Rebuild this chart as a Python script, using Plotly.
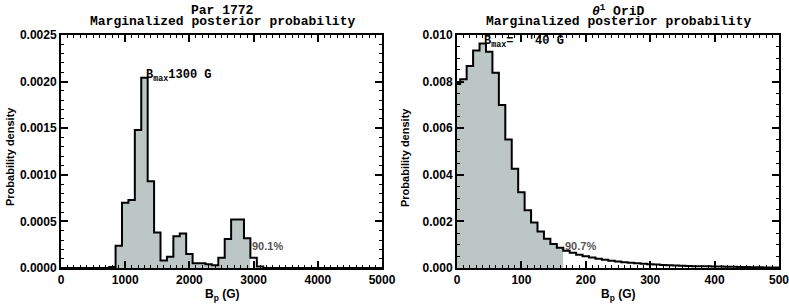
import plotly.graph_objects as go

# ---- data ----
left_centers = list(range(0, 5001, 100))
left_vals_e3 = [0]*8 + [0.01, 0.24, 0.70, 0.73, 1.48, 2.04, 0.93, 0.38, 0.08, 0.12,
                        0.34, 0.37, 0.15, 0.05, 0.05, 0.04, 0.03, 0.11, 0.31, 0.52,
                        0.52, 0.32, 0.11, 0.015]
left_vals_e3 += [0] * (len(left_centers) - len(left_vals_e3))
left_vals = [v * 1e-3 for v in left_vals_e3]
left_cut = 2950

right_centers = list(range(0, 501, 10))
right_vals_e3 = [7.9, 8.1, 8.67, 9.33, 9.64, 9.28, 8.38, 7.0, 5.52, 4.26,
                 3.25, 2.48, 1.95, 1.57, 1.26, 1.03, 0.87, 0.74, 0.65, 0.57,
                 0.50, 0.45, 0.40, 0.35, 0.31, 0.28, 0.25, 0.22, 0.20, 0.18,
                 0.16, 0.145, 0.13, 0.12, 0.11, 0.10, 0.09, 0.08, 0.075, 0.07,
                 0.065, 0.06, 0.055, 0.05, 0.045, 0.04, 0.035, 0.03, 0.025, 0.02, 0.02]
right_vals = [v * 1e-3 for v in right_vals_e3]
right_cut = 165

left_xticks = [0, 1000, 2000, 3000, 4000, 5000]
left_yticks = [0, 0.0005, 0.0010, 0.0015, 0.0020, 0.0025]
left_ylabels = ["0.0000", "0.0005", "0.0010", "0.0015", "0.0020", "0.0025"]
right_xticks = [0, 100, 200, 300, 400, 500]
right_yticks = [0, 0.002, 0.004, 0.006, 0.008, 0.010]
right_ylabels = ["0.000", "0.002", "0.004", "0.006", "0.008", "0.010"]

FILL = "#bcc6c4"
TICKFONT = dict(family="Liberation Sans", size=12, color="black", weight="bold")
MONO = "Liberation Mono"

W, H = 789, 305


def px(X):
    return X / W


def py(Y):
    return 1 - Y / H


fig = go.Figure()


def add_hist(centers, vals, cut, xa, ya):
    w = centers[1] - centers[0]
    sx = [c for c in centers if c + w / 2 <= cut + 1e-9]
    sy = [v for c, v in zip(centers, vals) if c + w / 2 <= cut + 1e-9]
    fig.add_trace(go.Bar(x=sx, y=sy, width=w, marker=dict(color=FILL, line=dict(width=0)),
                         xaxis=xa, yaxis=ya, showlegend=False, hoverinfo="skip"))
    lx = [c - w / 2 for c in centers] + [centers[-1] + w / 2]
    ly = list(vals) + [vals[-1]]
    fig.add_trace(go.Scatter(x=lx, y=ly, mode="lines", line=dict(color="black", width=2, shape="hv"),
                             xaxis=xa, yaxis=ya, showlegend=False, hoverinfo="skip"))


add_hist(left_centers, left_vals, left_cut, "x", "y")
add_hist(right_centers, right_vals, right_cut, "x2", "y2")

ydom = [py(268), py(35)]
common = dict(showgrid=False, zeroline=False, showline=True, linecolor="black", linewidth=2,
              mirror="allticks", ticks="inside", ticklen=7, tickwidth=1.5, tickcolor="black",
              tickfont=TICKFONT, automargin=False, ticklabeloverflow="allow")

fig.update_layout(
    width=W, height=H, margin=dict(l=0, r=0, t=0, b=0),
    plot_bgcolor="white", paper_bgcolor="white", bargap=0,
    font=dict(color="black", family="Liberation Sans"),
    xaxis=dict(domain=[px(61), px(382)], range=[0, 5000], tickvals=left_xticks,
               minor=dict(ticks="inside", ticklen=3, dtick=100, tickcolor="black", tickwidth=1),
               anchor="y", **common),
    yaxis=dict(domain=ydom, range=[0, 0.0025], tickvals=left_yticks, ticktext=left_ylabels,
               minor=dict(ticks="inside", ticklen=3, dtick=0.0001, tickcolor="black", tickwidth=1),
               anchor="x", **common),
    xaxis2=dict(domain=[px(457), px(779)], range=[0, 500], tickvals=right_xticks,
                minor=dict(ticks="inside", ticklen=3, dtick=10, tickcolor="black", tickwidth=1),
                anchor="y2", **common),
    yaxis2=dict(domain=ydom, range=[0, 0.010], tickvals=right_yticks, ticktext=right_ylabels,
                minor=dict(ticks="inside", ticklen=3, dtick=0.0005, tickcolor="black", tickwidth=1),
                anchor="x2", **common),
)

ann = []
# titles
ann.append(dict(text="<b>Par 1772</b>", x=222, y=10, font=dict(family=MONO, size=13)))
ann.append(dict(text="<b>Marginalized posterior probability</b>", x=222, y=22, font=dict(family=MONO, size=13)))
ann.append(dict(text="<b><i>θ</i><sup>1</sup> OriD</b>", x=618, y=10, font=dict(family=MONO, size=13)))
ann.append(dict(text="<b>Marginalized posterior probability</b>", x=618, y=22, font=dict(family=MONO, size=13)))
# y titles
for xp in (10, 405):
    ann.append(dict(text="<b>Probability density</b>", x=xp, y=157, textangle=-90,
                    font=dict(family="Liberation Sans", size=11)))
# x titles
for xp in (222, 618):
    ann.append(dict(text="<b>B<sub>p</sub> (G)</b>", x=xp, y=295, font=dict(family="Liberation Sans", size=12)))
# in-plot labels
ann.append(dict(text="<b>B<sub>max</sub>1300 G</b>", x=144, y=76, xanchor="left", font=dict(family=MONO, size=12)))
ann.append(dict(text="<b>B<sub>max</sub>=\u00a0\u00a0'40 G</b>", x=482, y=42, xanchor="left", font=dict(family=MONO, size=12)))
ann.append(dict(text="<b>90.1%</b>", x=250, y=246, xanchor="left", font=dict(family="Liberation Sans", size=11, color="#555555")))
ann.append(dict(text="<b>90.7%</b>", x=563, y=246, xanchor="left", font=dict(family="Liberation Sans", size=11, color="#555555")))

for a in ann:
    a.update(xref="paper", yref="paper", showarrow=False)
    a["x"] = px(a["x"])
    a["y"] = py(a["y"])
    a.setdefault("xanchor", "center")
    a["yanchor"] = "middle"
fig.update_layout(annotations=ann)

fig.write_html("out.html", config={"displayModeBar": False},
               post_script="document.body.style.margin='0';document.body.style.overflow='hidden';")
